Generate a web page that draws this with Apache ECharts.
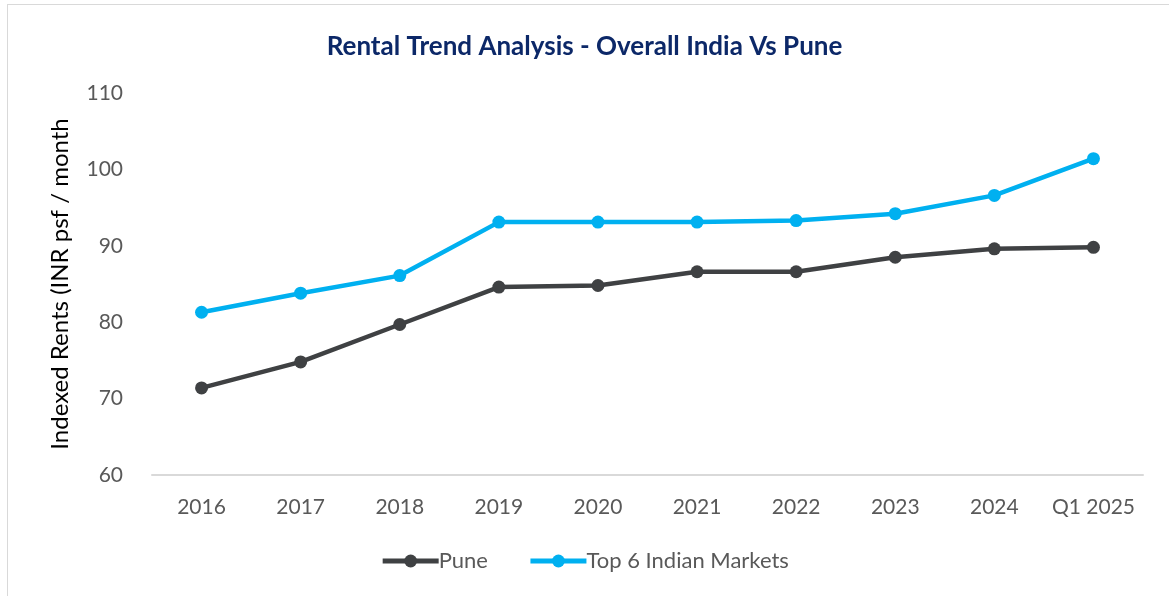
<!DOCTYPE html>
<html>
<head>
<meta charset="utf-8">
<script src="https://cdn.jsdelivr.net/npm/echarts@6/dist/echarts.min.js"></script>
<style>
  html, body { margin: 0; padding: 0; background: #fff; }
  #frame { position: absolute; left: 7px; top: 4px; width: 1200px; height: 620px;
           border: 1px solid #d9d9d9; box-sizing: border-box; }
  #chart { position: absolute; left: 0; top: 0; width: 1169px; height: 596px; }
</style>
</head>
<body>
<div id="frame"></div>
<div id="chart"></div>
<script>
// categories and indexed rents
const years = ["2016", "2017", "2018", "2019", "2020", "2021", "2022", "2023", "2024", "Q1 2025"];
const pune = [71.4, 74.8, 79.7, 84.6, 84.8, 86.6, 86.6, 88.5, 89.6, 89.8];
const top6 = [81.3, 83.8, 86.1, 93.1, 93.1, 93.1, 93.3, 94.2, 96.6, 101.4];

const font = "Lato, 'Open Sans', sans-serif";

const chart = echarts.init(document.getElementById("chart"), null, { renderer: "canvas" });

function lineSeries(name, data, color) {
    return {
        name: name,
        type: "line",
        data: data,
        symbol: "circle",
        symbolSize: 13,
        showAllSymbol: true,
        lineStyle: { color: color, width: 4.5 },
        itemStyle: { color: color },
        emphasis: { disabled: true }
    };
}

chart.setOption({
    animation: false,
    title: {
        text: "Rental Trend Analysis - Overall India Vs Pune",
        left: "center",
        top: 29,
        textStyle: { fontFamily: font, fontSize: 26, fontWeight: "bold", color: "#0c2868" }
    },
    legend: {
        bottom: 19,
        left: "center",
        itemWidth: 56,
        itemHeight: 16,
        itemGap: 40,
        lineStyle: { width: 5 },
        textStyle: { fontFamily: font, fontSize: 22, color: "#595959", padding: [0, 0, 0, -5] },
        data: ["Pune", "Top 6 Indian Markets"]
    },
    grid: { left: 152, right: 26, top: 93, bottom: 121 },
    xAxis: {
        type: "category",
        data: years,
        boundaryGap: true,
        axisLine: { lineStyle: { color: "#d9d9d9", width: 2 } },
        axisTick: { show: false },
        axisLabel: { fontFamily: font, fontSize: 21, color: "#595959", margin: 22, interval: 0, hideOverlap: false }
    },
    yAxis: {
        type: "value",
        min: 60,
        max: 110,
        interval: 10,
        name: "Indexed Rents (INR psf / month",
        nameLocation: "middle",
        nameGap: 80,
        nameTextStyle: { fontFamily: font, fontSize: 24, color: "#000" },
        axisLine: { show: false },
        axisTick: { show: false },
        splitLine: { show: false },
        axisLabel: { fontFamily: font, fontSize: 21, color: "#595959", margin: 29 }
    },
    series: [
        lineSeries("Pune", pune, "#3f4143"),
        lineSeries("Top 6 Indian Markets", top6, "#00b0f0")
    ]
});
</script>
</body>
</html>
